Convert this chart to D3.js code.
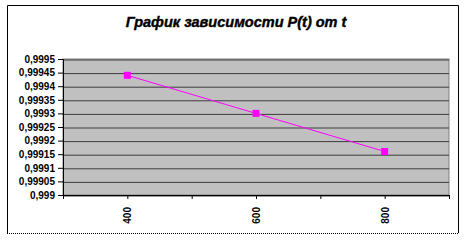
<!DOCTYPE html>
<html>
<head>
<meta charset="utf-8">
<script src="https://cdn.jsdelivr.net/npm/d3@7"></script>
<style>
  body { margin: 0; background: #fff; }
  svg text { font-family: "Liberation Sans", Arial, sans-serif; font-weight: bold; fill: #000; }
</style>
</head>
<body>
<svg id="chart" width="465" height="240"></svg>
<script>
const tValues = [400, 600, 800]
const pValues = [0.99944, 0.9993, 0.99916]
const xTickValues = [300, 400, 500, 600, 700, 800, 900]
const xLabelValues = [400, 600, 800]
const yTickValues = [0.999, 0.99905, 0.9991, 0.99915, 0.9992, 0.99925, 0.9993, 0.99935, 0.9994, 0.99945, 0.9995]
const title = 'График зависимости P(t) от t'

const svg = d3.select('#chart')
const margin = { top: 59, right: 16, bottom: 45, left: 63 }
const width = 465 - margin.left - margin.right
const height = 240 - margin.top - margin.bottom

// chart frame
svg.append('path')
  .attr('d', 'M7.5,233 V5.5 H458.5 V233')
  .attr('fill', 'none').attr('stroke', '#000')
svg.append('line')
  .attr('x1', 7).attr('x2', 459).attr('y1', 233.5).attr('y2', 233.5)
  .attr('stroke', '#000').attr('stroke-dasharray', '1,1')

svg.append('text')
  .attr('x', 236).attr('y', 27)
  .attr('text-anchor', 'middle')
  .style('font-size', '14.5px').style('font-style', 'italic')
  .style('stroke', '#000').style('stroke-width', 0.4)
  .text(title)

const xScale = d3.scaleLinear().domain([300, 900]).range([0, width])
const yScale = d3.scaleLinear().domain([0.999, 0.9995]).range([height, 0])

const g = svg.append('g').attr('transform', `translate(${margin.left},${margin.top})`)

g.append('rect')
  .attr('width', width).attr('height', height)
  .attr('fill', '#c0c0c0')
  .attr('stroke', '#808080')

// grid lines
g.append('g')
  .attr('class', 'grid')
  .call(d3.axisLeft(yScale).tickValues(yTickValues).tickSize(-width).tickFormat(''))
  .call(s => s.select('.domain').remove())
  .call(s => s.selectAll('line').attr('stroke', '#3c3c3c').attr('transform', 'translate(0,0.5)'))

// y axis
g.append('g')
  .call(d3.axisLeft(yScale).tickValues(yTickValues).tickSize(5).tickPadding(3)
    .tickFormat(d => d3.format('.5~f')(d).replace('.', ',')))
  .call(s => s.select('.domain').attr('stroke', '#000'))
  .call(s => s.selectAll('line').attr('stroke', '#000'))
  .call(s => s.selectAll('text').style('font-size', '10px').style('font-family', '"Liberation Sans", Arial, sans-serif'))

// x axis
const gX = g.append('g')
  .attr('transform', `translate(0,${height})`)
  .call(d3.axisBottom(xScale).tickValues(xTickValues).tickSize(4).tickSizeOuter(0)
    .tickFormat(d => xLabelValues.includes(d) ? d : ''))
gX.select('.domain').attr('stroke', '#000')
gX.selectAll('line').attr('stroke', '#000')
gX.selectAll('text')
  .style('font-size', '10px').style('font-family', '"Liberation Sans", Arial, sans-serif')
  .attr('transform', 'rotate(-90)')
  .attr('text-anchor', 'end')
  .attr('dy', '0.35em')
  .attr('x', -12).attr('y', 0)

const data = tValues.map((t, i) => ({ t, p: pValues[i] }))
const line = d3.line().x(d => xScale(d.t)).y(d => yScale(d.p))

g.append('path')
  .datum(data)
  .attr('d', line)
  .attr('fill', 'none')
  .attr('stroke', '#ff00ff')
  .attr('stroke-width', 1)

g.selectAll('.marker')
  .data(data)
  .join('rect')
  .attr('class', 'marker')
  .attr('x', d => xScale(d.t) - 3.5)
  .attr('y', d => yScale(d.p) - 3.5)
  .attr('width', 7).attr('height', 7)
  .attr('fill', '#ff00ff')
</script>
</body>
</html>
